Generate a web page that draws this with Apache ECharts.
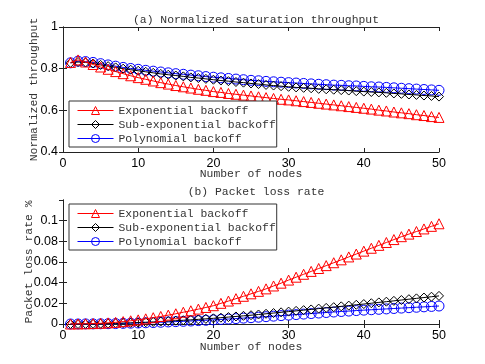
<!DOCTYPE html>
<html>
<head>
<meta charset="utf-8">
<script src="https://cdn.jsdelivr.net/npm/echarts@6/dist/echarts.min.js"></script>
<style>
  html, body { margin: 0; padding: 0; background: #fff; }
  #chart { width: 485px; height: 364px; }
</style>
</head>
<body>
<div id="chart"></div>
<script>
var nodes = [];
for (var n = 1; n <= 50; n++) nodes.push(n);

var seriesNames = ['Exponential backoff', 'Sub-exponential backoff', 'Polynomial backoff'];
var xTicks = [0, 10, 20, 30, 40, 50];

// (a) normalized saturation throughput
var thrExp = [0.830, 0.842, 0.832, 0.820, 0.808, 0.797, 0.786, 0.776, 0.766, 0.757,
              0.749, 0.741, 0.733, 0.726, 0.719, 0.713, 0.707, 0.701, 0.696, 0.690,
              0.686, 0.681, 0.677, 0.673, 0.669, 0.665, 0.661, 0.657, 0.653, 0.650,
              0.646, 0.642, 0.638, 0.634, 0.630, 0.626, 0.622, 0.618, 0.614, 0.610,
              0.606, 0.601, 0.597, 0.592, 0.588, 0.584, 0.579, 0.575, 0.570, 0.566];
var thrSub = [0.828, 0.832, 0.830, 0.825, 0.818, 0.812, 0.806, 0.800, 0.795, 0.790,
              0.785, 0.780, 0.775, 0.771, 0.767, 0.763, 0.758, 0.755, 0.751, 0.747,
              0.743, 0.740, 0.736, 0.733, 0.729, 0.726, 0.722, 0.719, 0.716, 0.713,
              0.710, 0.708, 0.706, 0.703, 0.701, 0.699, 0.697, 0.695, 0.692, 0.690,
              0.688, 0.686, 0.684, 0.681, 0.679, 0.676, 0.674, 0.671, 0.669, 0.666];
var thrPoly = [0.828, 0.836, 0.834, 0.830, 0.824, 0.818, 0.812, 0.806, 0.801, 0.797,
               0.792, 0.788, 0.784, 0.780, 0.776, 0.773, 0.769, 0.766, 0.762, 0.759,
               0.756, 0.753, 0.750, 0.747, 0.744, 0.742, 0.739, 0.737, 0.735, 0.733,
               0.731, 0.729, 0.727, 0.725, 0.723, 0.721, 0.720, 0.718, 0.717, 0.715,
               0.713, 0.712, 0.710, 0.708, 0.706, 0.704, 0.702, 0.700, 0.698, 0.696];

// (b) packet loss rate
var lossExp = [0.0000, 0.0001, 0.0002, 0.0004, 0.0007, 0.0011, 0.0016, 0.0023, 0.0031, 0.0040,
               0.0050, 0.0061, 0.0073, 0.0086, 0.0099, 0.0114, 0.0128, 0.0144, 0.0160, 0.0177,
               0.0200, 0.0222, 0.0245, 0.0268, 0.0292, 0.0316, 0.0340, 0.0368, 0.0395, 0.0425,
               0.0453, 0.0481, 0.0509, 0.0537, 0.0565, 0.0593, 0.0621, 0.0649, 0.0677, 0.0705,
               0.0733, 0.0761, 0.0789, 0.0817, 0.0845, 0.0870, 0.0895, 0.0920, 0.0945, 0.0970];
var lossSub = [0.0000, 0.0000, 0.0001, 0.0002, 0.0003, 0.0005, 0.0007, 0.0009, 0.0011, 0.0014,
               0.0017, 0.0020, 0.0024, 0.0028, 0.0032, 0.0036, 0.0040, 0.0045, 0.0050, 0.0055,
               0.0061, 0.0067, 0.0073, 0.0079, 0.0085, 0.0092, 0.0099, 0.0106, 0.0113, 0.0120,
               0.0127, 0.0134, 0.0141, 0.0149, 0.0156, 0.0163, 0.0171, 0.0178, 0.0186, 0.0193,
               0.0201, 0.0209, 0.0216, 0.0224, 0.0232, 0.0240, 0.0248, 0.0256, 0.0264, 0.0272];
var lossPoly = [0.0000, 0.0000, 0.0001, 0.0001, 0.0002, 0.0003, 0.0004, 0.0006, 0.0008, 0.0010,
                0.0012, 0.0014, 0.0017, 0.0020, 0.0023, 0.0026, 0.0029, 0.0033, 0.0036, 0.0040,
                0.0044, 0.0048, 0.0052, 0.0057, 0.0061, 0.0066, 0.0071, 0.0076, 0.0081, 0.0086,
                0.0091, 0.0096, 0.0101, 0.0106, 0.0111, 0.0116, 0.0121, 0.0125, 0.0130, 0.0134,
                0.0138, 0.0142, 0.0146, 0.0150, 0.0154, 0.0158, 0.0162, 0.0166, 0.0170, 0.0174];

var colors = ['#ff0000', '#000000', '#0000ff'];
var symbols = ['triangle', 'diamond', 'circle'];
var symbolSizes = [10, 9, 10];

var mono = '"Liberation Mono", "DejaVu Sans Mono", monospace';
var sans = '"Liberation Sans", Arial, sans-serif';

function pairs(ys) {
    return ys.map(function (y, i) { return [nodes[i], y]; });
}

function makeSeries(ys, k, gi) {
    return {
        name: seriesNames[k],
        type: 'line',
        xAxisIndex: gi * 2,
        yAxisIndex: gi * 2,
        data: pairs(ys),
        symbol: symbols[k],
        symbolSize: symbolSizes[k],
        showAllSymbol: true,
        lineStyle: { color: colors[k], width: 1 },
        itemStyle: { color: 'rgba(255,255,255,0)', borderColor: colors[k], borderWidth: 1 },
        emphasis: { disabled: true },
        z: 3 - k
    };
}

function mainX(gi, gap) {
    return {
        type: 'value', gridIndex: gi, min: 0, max: 50, interval: 10,
        name: 'Number of nodes', nameLocation: 'middle', nameGap: gap, nameMoveOverlap: false,
        nameTextStyle: { fontFamily: mono, fontSize: 11.4, color: '#333' },
        axisLine: { lineStyle: { color: '#222' } },
        axisTick: { inside: true, length: 4, lineStyle: { color: '#222' } },
        axisLabel: { fontFamily: sans, fontSize: 12.5, color: '#000', margin: 5 },
        splitLine: { show: false }
    };
}
function topX(gi) {
    return {
        type: 'value', gridIndex: gi, min: 0, max: 50, interval: 10, position: 'top',
        axisLine: { lineStyle: { color: '#222' } },
        axisTick: { inside: true, length: 4, lineStyle: { color: '#222' } },
        axisLabel: { show: false }, splitLine: { show: false }
    };
}
function mainY(gi, mn, mx, iv, name, gap) {
    return {
        type: 'value', gridIndex: gi, min: mn, max: mx, interval: iv,
        name: name, nameLocation: 'middle', nameGap: gap, nameRotate: 90, nameMoveOverlap: false,
        nameTextStyle: { fontFamily: mono, fontSize: 11.4, color: '#333' },
        axisLine: { show: true, lineStyle: { color: '#222' } },
        axisTick: { show: true, inside: true, length: 4, lineStyle: { color: '#222' } },
        axisLabel: { fontFamily: sans, fontSize: 12.5, color: '#000', margin: 5, showMaxLabel: gi === 0 },
        splitLine: { show: false }
    };
}
function rightY(gi, mn, mx, iv) {
    return {
        type: 'value', gridIndex: gi, min: mn, max: mx, interval: iv, position: 'right',
        axisLine: { show: true, lineStyle: { color: '#222' } },
        axisTick: { show: true, inside: true, length: 4, lineStyle: { color: '#222' } },
        axisLabel: { show: false }, splitLine: { show: false }
    };
}

function makeLegend(top) {
    return {
        orient: 'vertical', left: 69, top: top,
        data: seriesNames,
        itemWidth: 36, itemHeight: 10, itemGap: 3,
        padding: [4, 1, 3, 8],
        borderColor: '#333', borderWidth: 1, backgroundColor: '#fff',
        lineStyle: { width: 1 },
        itemStyle: { borderWidth: 1 },
        textStyle: { fontFamily: mono, fontSize: 11.4, color: '#333' },
        selectedMode: false
    };
}

var option = {
    animation: false,
    backgroundColor: '#fff',
    title: [
        { text: '(a) Normalized saturation throughput', left: 251, top: 9, textAlign: 'center',
          textStyle: { fontFamily: mono, fontSize: 11.4, fontWeight: 'normal', color: '#333' } },
        { text: '(b) Packet loss rate', left: 251, top: 181, textAlign: 'center',
          textStyle: { fontFamily: mono, fontSize: 11.4, fontWeight: 'normal', color: '#333' } }
    ],
    legend: [makeLegend(101), makeLegend(204)],
    grid: [
        { left: 63, top: 27, width: 376, height: 125 },
        { left: 63, top: 200, width: 376, height: 124 }
    ],
    xAxis: [mainX(0, 16), topX(0), mainX(1, 17), topX(1)],
    yAxis: [
        mainY(0, 0.4, 1, 0.2, 'Normalized throughput', 24), rightY(0, 0.4, 1, 0.2),
        mainY(1, 0, 0.12, 0.02, 'Packet loss rate %', 29), rightY(1, 0, 0.12, 0.02)
    ],
    series: [
        makeSeries(thrExp, 0, 0), makeSeries(thrSub, 1, 0), makeSeries(thrPoly, 2, 0),
        makeSeries(lossExp, 0, 1), makeSeries(lossSub, 1, 1), makeSeries(lossPoly, 2, 1)
    ]
};

var chart = echarts.init(document.getElementById('chart'));
chart.setOption(option);
</script>
</body>
</html>
